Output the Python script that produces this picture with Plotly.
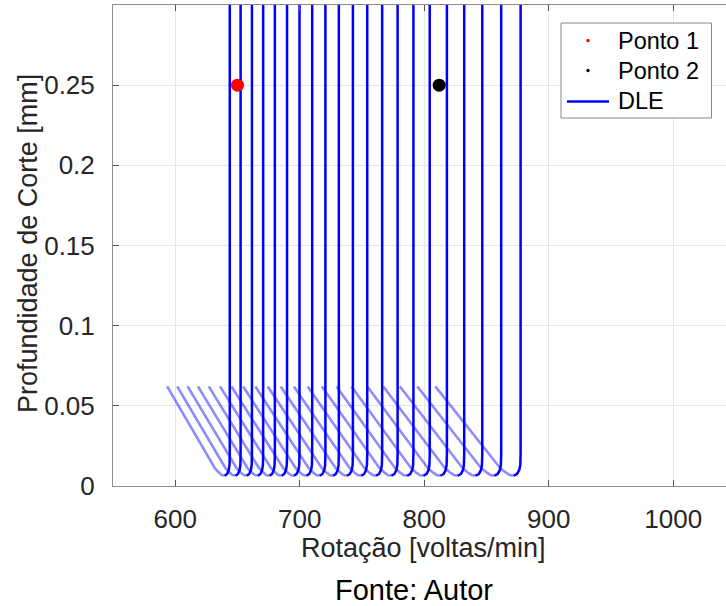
import plotly.graph_objects as go

# Vertical asymptote (rotation) of each stability lobe, rpm
lobe_rpm = [643.8, 652.5, 661.6, 670.6, 680.0, 689.8, 699.8, 710.0, 720.6, 731.4,
            742.7, 754.2, 766.2, 778.6, 791.3, 804.4, 818.2, 832.1, 846.6, 861.8, 877.4]

# Shared lobe outline: relative rotation offset and depth [mm]
# left (light) branch: from top of diagonal down to the lobe minimum
light_u = [-0.0781, -0.0186, -0.0140, -0.0101, -0.0064]
light_d = [0.0621, 0.0111, 0.0086, 0.0069, 0.0064]
# right (solid) branch: from the minimum up along the asymptote
solid_u = [-0.0064, -0.0033, -0.0012, -0.0003, 0.0, 0.0]
solid_d = [0.0064, 0.0075, 0.0100, 0.0131, 0.0200, 0.3000]

ponto1 = (650, 0.25)
ponto2 = (812, 0.25)

legend_names = ["Ponto 1", "Ponto 2", "DLE"]

x_ticks = [600, 700, 800, 900, 1000]
y_ticks = [0, 0.05, 0.1, 0.15, 0.2, 0.25]
y_ticktext = ["0", "0.05", "0.1", "0.15", "0.2", "0.25"]

FONT = "Liberation Sans, Arial, sans-serif"
BLUE = "#0000ff"

lx, ly, sx, sy = [], [], [], []
for n in lobe_rpm:
    lx += [n * (1 + u) for u in light_u] + [None]
    ly += light_d + [None]
    sx += [n * (1 + u) for u in solid_u] + [None]
    sy += solid_d + [None]

fig = go.Figure()
fig.add_trace(go.Scatter(x=lx, y=ly, mode="lines", showlegend=False,
                         line=dict(color="rgba(0,0,255,0.45)", width=2.6), hoverinfo="skip"))
fig.add_trace(go.Scatter(x=sx, y=sy, mode="lines", showlegend=False,
                         line=dict(color=BLUE, width=2.5), hoverinfo="skip"))
fig.add_trace(go.Scatter(x=[ponto1[0]], y=[ponto1[1]], mode="markers", showlegend=False,
                         name=legend_names[0], marker=dict(color="#ff0000", size=13)))
fig.add_trace(go.Scatter(x=[ponto2[0]], y=[ponto2[1]], mode="markers", showlegend=False,
                         name=legend_names[1], marker=dict(color="#000000", size=13)))

L, T, R, B = 113, 5, 0, 120
W, H = 726, 606
pw, ph = W - L - R, H - T - B

def px(xp):
    return (xp - L) / pw

def py(yp):
    return (T + ph - yp) / ph

# manual legend (box, symbols, labels)
shapes = [
    dict(type="rect", xref="paper", yref="paper", x0=px(561), x1=px(711.5),
         y0=py(118), y1=py(23), line=dict(color="#888888", width=1), fillcolor="white",
         layer="above"),
    dict(type="circle", xref="paper", yref="paper", x0=px(586.3), x1=px(589.7),
         y0=py(42.2), y1=py(38.8), line=dict(width=0), fillcolor="#ff0000", layer="above"),
    dict(type="circle", xref="paper", yref="paper", x0=px(586.3), x1=px(589.7),
         y0=py(72.2), y1=py(68.8), line=dict(width=0), fillcolor="#000000", layer="above"),
    dict(type="line", xref="paper", yref="paper", x0=px(567), x1=px(609),
         y0=py(101.5), y1=py(101.5), line=dict(color=BLUE, width=2.5), layer="above"),
]
legend_rows = [40.5, 70.5, 101.5]
annotations = [
    dict(text=name, xref="paper", yref="paper", x=px(616), y=py(yr),
         xanchor="left", yanchor="middle", showarrow=False,
         font=dict(family=FONT, size=23.5, color="#000000"))
    for name, yr in zip(legend_names, legend_rows)
]
annotations += [
    dict(text="Rotação [voltas/min]", xref="paper", yref="paper",
         x=px(423.5), y=py(548), xanchor="center", yanchor="middle",
         showarrow=False, font=dict(family=FONT, size=27, color="#262626")),
    dict(text="Profundidade de Corte [mm]", xref="paper", yref="paper",
         x=px(28), y=py(244), xanchor="center", yanchor="middle", textangle=-90,
         showarrow=False, font=dict(family=FONT, size=27, color="#262626")),
    dict(text="Fonte: Autor", xref="paper", yref="paper",
         x=px(413.6), y=py(590), xanchor="center", yanchor="middle",
         showarrow=False, font=dict(family=FONT, size=29, color="#000000")),
]

fig.update_layout(
    width=W, height=H, margin=dict(l=L, r=R, t=T, b=B),
    paper_bgcolor="white", plot_bgcolor="white",
    font=dict(family=FONT, size=26, color="#262626"),
    showlegend=False,
    xaxis=dict(range=[550, 550 + pw / 1.245], tickvals=x_ticks,
               showgrid=True, gridcolor="#e6e6e6", gridwidth=1, zeroline=False,
               showline=True, linecolor="#8c8c8c", linewidth=1, mirror="ticks",
               ticks="inside", ticklen=6, tickcolor="#555555", ticklabelstandoff=10,
               tickfont=dict(family=FONT, size=26, color="#262626")),
    yaxis=dict(range=[0, 0.3], tickvals=y_ticks, ticktext=y_ticktext,
               showgrid=True, gridcolor="#e6e6e6", gridwidth=1, zeroline=False,
               showline=True, linecolor="#8c8c8c", linewidth=1,
               ticks="inside", ticklen=6, tickcolor="#555555", ticklabelstandoff=12,
               tickfont=dict(family=FONT, size=26, color="#262626")),
    shapes=shapes,
    annotations=annotations,
)

fig.write_html("out.html")
